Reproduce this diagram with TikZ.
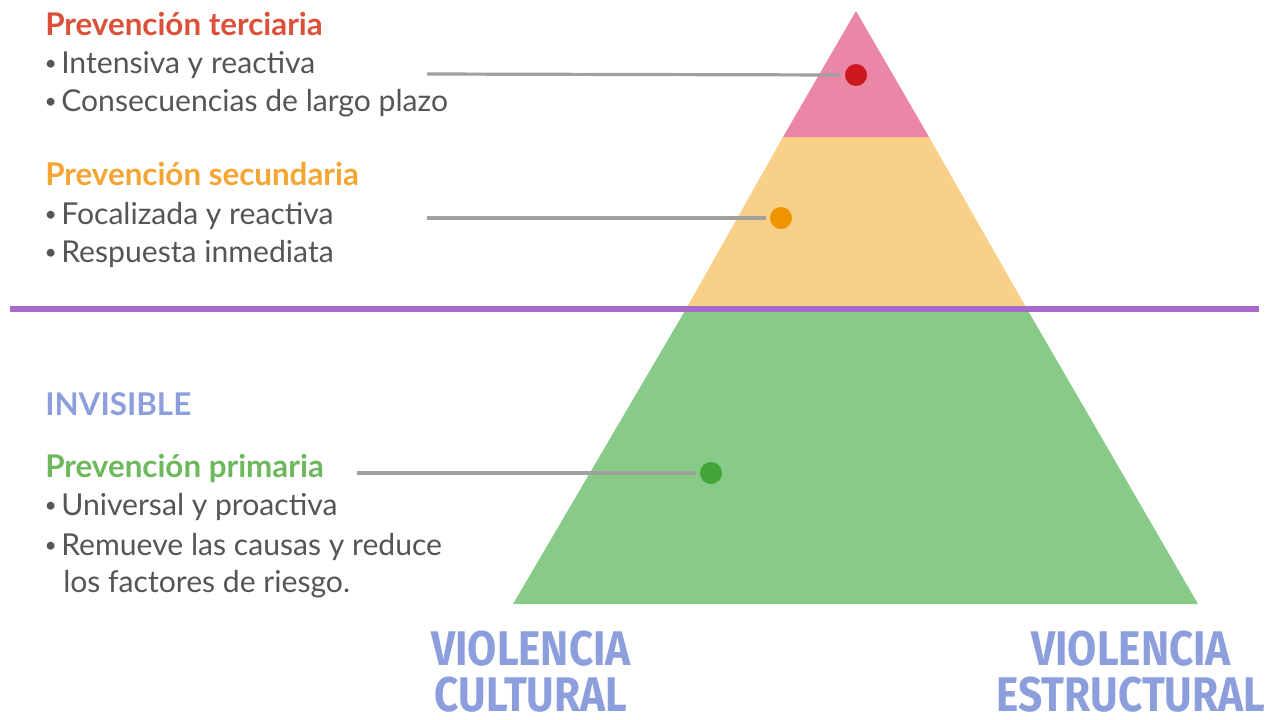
\documentclass[tikz,border=0pt]{standalone}
\usepackage{fontspec}
\setmainfont{Lato}
\newfontfamily\condfont{Fira Sans}
\definecolor{tercC}{HTML}{DA5039}
\definecolor{secC}{HTML}{F4A533}
\definecolor{primC}{HTML}{6DB75C}
\definecolor{invC}{HTML}{8C9FDC}
\definecolor{bodyC}{HTML}{555555}
\definecolor{pinkC}{HTML}{EA86A6}
\definecolor{yellowC}{HTML}{F9D088}
\definecolor{greenC}{HTML}{88CB88}
\definecolor{purpleC}{HTML}{A66BCA}
\definecolor{lineC}{HTML}{A0A0A0}
\definecolor{redDot}{HTML}{CC181E}
\definecolor{orangeDot}{HTML}{F09300}
\definecolor{greenDot}{HTML}{44A53B}
\newcommand{\bul}{\makebox[12pt][l]{\hspace{-0.5pt}\raisebox{1.6pt}{\scalebox{0.7}{\textbullet}}}}
\tikzset{
  body/.style={anchor=base west, inner sep=0pt, text=bodyC, font=\fontsize{22.6}{26}\selectfont},
  head/.style={anchor=base west, inner sep=0pt, font=\fontsize{23.5}{27}\selectfont\bfseries},
  big/.style={anchor=base, inner sep=0pt, text=invC, font=\fontsize{36.5}{40}\selectfont\condfont\bfseries},
  dot/.style={circle, inner sep=0pt, minimum size=16.5pt},
  leader/.style={draw=lineC, line width=2.4pt, shorten >=3pt}
}
\begin{document}
\begin{tikzpicture}[x=0.75pt,y=-0.75pt]
\useasboundingbox (0,0) rectangle (1270,719);
% pyramid
\fill[greenC] (513,604) -- (1198,604) -- (1027,309) -- (686,309) -- cycle;
\fill[yellowC] (686,309) -- (1027,309) -- (929,137) -- (783,137) -- cycle;
\fill[pinkC] (783,137) -- (929,137) -- (856,11) -- cycle;
\draw[purpleC, line width=3.8pt] (10,309) -- (1259,309);
% dots
\node[dot, fill=redDot] (d1) at (856,75) {};
\node[dot, fill=orangeDot] (d2) at (781,218) {};
\node[dot, fill=greenDot] (d3) at (711,473) {};
\coordinate (l1) at (427,74);
\coordinate (l2) at (427,218);
\coordinate (l3) at (357,473);
\draw[leader] (l1) -- (d1.west);
\draw[leader] (l2) -- (d2.west);
\draw[leader] (l3) -- (d3.west);
% texts
\node[head, text=tercC] (t1) at (45,35) {Prevención terciaria};
\node[body] (t1a) at (45,73) {\bul Intensiva y reactiva};
\node[body] (t1b) at (45,111) {\bul Consecuencias de largo plazo};
\node[head, text=secC] (t2) at (45,185) {Prevención secundaria};
\node[body] (t2a) at (45,224) {\bul Focalizada y reactiva};
\node[body] (t2b) at (45,262) {\bul Respuesta inmediata};
\node[head, text=invC] (inv) at (45,415) {INVISIBLE};
\node[head, text=primC] (t3) at (45,477) {Prevención primaria};
\node[body] (t3a) at (45,515) {\bul Universal y proactiva};
\node[body] (t3b) at (45,555) {\bul Remueve las causas y reduce};
\node[body] (t3c) at (63,592) {los factores de riesgo.};
\node[big] (v1) at (531,665) {\scalebox{0.87}[1]{VIOLENCIA}};
\node[big] (v2) at (531,711) {\scalebox{0.87}[1]{CULTURAL}};
\node[big] (v3) at (1131,665) {\scalebox{0.87}[1]{VIOLENCIA}};
\node[big] (v4) at (1131,711) {\scalebox{0.87}[1]{ESTRUCTURAL}};
\end{tikzpicture}
\end{document}
